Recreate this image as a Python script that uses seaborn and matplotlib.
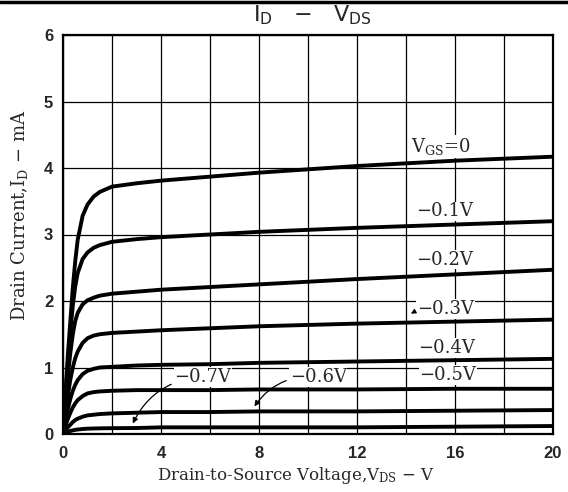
import numpy as np
import pandas as pd
import matplotlib
matplotlib.use("Agg")
import matplotlib.pyplot as plt
import matplotlib.ticker as mticker
from matplotlib.lines import Line2D
import seaborn as sns

sns.set_style("white")
plt.rcParams["font.family"] = ["DejaVu Serif"]

# Drain-source voltage (V) sampled along every curve
VDS = [0, 0.1, 0.2, 0.3, 0.4, 0.5, 0.6, 0.8, 1.0, 1.25, 1.5, 2, 3, 4, 6, 8, 12, 16, 20]

# Drain current (mA) for each gate-source voltage
ID_0  = [0, 0.6, 1.2, 1.7, 2.2, 2.6, 2.92, 3.28, 3.45, 3.57, 3.64, 3.72, 3.77, 3.81, 3.87, 3.93, 4.03, 4.11, 4.17]
ID_01 = [0, 0.55, 1.08, 1.55, 1.93, 2.22, 2.42, 2.63, 2.73, 2.8, 2.84, 2.89, 2.93, 2.96, 3.0, 3.04, 3.10, 3.15, 3.20]
ID_02 = [0, 0.45, 0.88, 1.22, 1.5, 1.7, 1.82, 1.95, 2.01, 2.05, 2.08, 2.11, 2.14, 2.17, 2.21, 2.25, 2.33, 2.40, 2.47]
ID_03 = [0, 0.3, 0.58, 0.82, 1.0, 1.14, 1.24, 1.37, 1.44, 1.48, 1.5, 1.52, 1.54, 1.56, 1.59, 1.62, 1.66, 1.69, 1.72]
ID_04 = [0, 0.2, 0.38, 0.53, 0.65, 0.74, 0.81, 0.9, 0.95, 0.98, 1.0, 1.01, 1.03, 1.04, 1.05, 1.07, 1.09, 1.11, 1.13]
ID_05 = [0, 0.12, 0.23, 0.32, 0.4, 0.46, 0.51, 0.57, 0.61, 0.63, 0.64, 0.65, 0.66, 0.66, 0.66, 0.67, 0.67, 0.68, 0.68]
ID_06 = [0, 0.05, 0.1, 0.14, 0.18, 0.21, 0.23, 0.26, 0.28, 0.29, 0.3, 0.31, 0.32, 0.33, 0.33, 0.34, 0.34, 0.35, 0.36]
ID_07 = [0, 0.015, 0.03, 0.045, 0.055, 0.062, 0.068, 0.075, 0.08, 0.083, 0.085, 0.088, 0.09, 0.1, 0.1, 0.1, 0.1, 0.11, 0.12]

VGS = ["0", "-0.1", "-0.2", "-0.3", "-0.4", "-0.5", "-0.6", "-0.7"]
CURVES = [ID_0, ID_01, ID_02, ID_03, ID_04, ID_05, ID_06, ID_07]

X_TICKS = [0, 4, 8, 12, 16, 20]
Y_TICKS = [0, 1, 2, 3, 4, 5, 6]

# curve labels: text, (x, y) in data units
LABELS = [
    (r"V$\mathregular{_{GS}}$=0", 14.2, 4.32),
    ("−0.1V", 14.4, 3.35),
    ("−0.2V", 14.4, 2.62),
    ("−0.3V", 14.45, 1.88),
    ("−0.4V", 14.5, 1.29),
    ("−0.5V", 14.55, 0.89),
]

rows = []
for vgs, vals in zip(VGS, CURVES):
    for v, i in zip(VDS, vals):
        rows.append({"vds": v, "id": i, "vgs": vgs})
df = pd.DataFrame(rows)

fig = plt.figure(figsize=(5.68, 4.92), dpi=100)
ax = fig.add_axes([63 / 568, 58 / 492, 490 / 568, 399 / 492])

sns.lineplot(data=df, x="vds", y="id", hue="vgs", hue_order=VGS,
             palette=["black"] * len(VGS), legend=False, linewidth=2.8,
             estimator=None, sort=False, ax=ax)

ax.set_xlim(0, 20)
ax.set_ylim(0, 6)
ax.set_xticks(X_TICKS)
ax.set_yticks(Y_TICKS)
ax.xaxis.set_minor_locator(mticker.MultipleLocator(2))
ax.grid(which="both", color="black", linewidth=0.9)
ax.tick_params(which="both", length=0, labelsize=12)
ax.tick_params(axis="x", pad=9)
ax.tick_params(axis="y", pad=7)
for lbl in ax.get_xticklabels() + ax.get_yticklabels():
    lbl.set_fontfamily("Liberation Sans")
    lbl.set_fontweight("bold")
for s in ax.spines.values():
    s.set_linewidth(1.6)
    s.set_color("black")
ax.set_xlabel("")
ax.set_ylabel("")

for txt, x, y in LABELS:
    ax.text(x, y, txt, fontsize=13, va="center", ha="left",
            bbox=dict(facecolor="white", edgecolor="none", pad=0.5))

# small pointer for -0.3V
ax.annotate("", xy=(14.1, 1.79), xytext=(14.45, 1.86),
            arrowprops=dict(arrowstyle="-|>", color="black", lw=0.8, mutation_scale=7))

ax.annotate("−0.7V", xy=(2.8, 0.12), xytext=(4.55, 0.86), fontsize=13,
            va="center", ha="left",
            bbox=dict(facecolor="white", edgecolor="none", pad=0.5),
            arrowprops=dict(arrowstyle="-|>", connectionstyle="arc3,rad=0.3",
                            color="black", lw=0.9, mutation_scale=8))
ax.annotate("−0.6V", xy=(7.75, 0.38), xytext=(9.25, 0.86), fontsize=13,
            va="center", ha="left",
            bbox=dict(facecolor="white", edgecolor="none", pad=0.5),
            arrowprops=dict(arrowstyle="-|>", connectionstyle="arc3,rad=0.3",
                            color="black", lw=0.9, mutation_scale=8))

fig.text(312 / 568, 1 - 21 / 492, r"$\mathregular{I_D}$   −   $\mathregular{V_{DS}}$",
         ha="center", va="baseline", fontsize=16, family="DejaVu Sans")
fig.text(20 / 568, 1 - 215 / 492, r"Drain Current,I$\mathregular{_D}$ − mA",
         rotation=90, ha="center", va="center", fontsize=13)
fig.text(296 / 568, 1 - 475 / 492, r"Drain-to-Source Voltage,V$\mathregular{_{DS}}$ − V",
         ha="center", va="center", fontsize=12)

fig.add_artist(Line2D([0, 1], [1 - 1.5 / 492] * 2, color="black", lw=2.5,
                      transform=fig.transFigure))

fig.savefig("out.png", dpi=100)
